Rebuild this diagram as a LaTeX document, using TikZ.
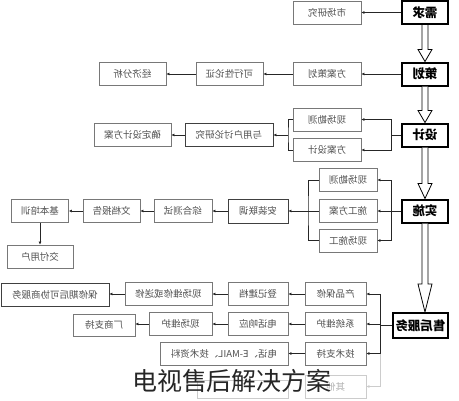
\documentclass[tikz,border=0pt]{standalone}
\usepackage{fontspec}
\usepackage{graphicx}
\setmainfont{Noto Sans CJK SC}
\usetikzlibrary{arrows.meta,calc}
\definecolor{box_gray}{RGB}{120, 120, 120}
\definecolor{txt_gray}{RGB}{80, 80, 80}
\tikzstyle{mb}=[rectangle,draw=black,line width=2pt,fill=white,inner sep=0pt,
  minimum width=46pt,minimum height=23pt,font=\fontsize{12.5}{13}\selectfont\bfseries]
\tikzstyle{sb}=[rectangle,draw=box_gray,line width=0.8pt,fill=white,inner sep=0pt,
  minimum height=23pt,text=txt_gray,font=\fontsize{9.5}{11}\selectfont]
\tikzstyle{sbd}=[sb,draw=black!75]
\tikzstyle{fb}=[sb,draw=black!20,text=black!30]
\tikzstyle{ar}=[-{Latex[length=3pt,width=3pt]},line width=0.8pt,draw=black!85]
\tikzstyle{ln}=[line width=0.8pt,draw=black!85]
\newcommand{\fl}[1]{\reflectbox{#1}}
\newcommand{\dblarrow}[3]{%
  \coordinate (tip) at (#1.south |- #2.north);
  \draw[line width=0.8pt,fill=white] ([xshift=-3pt]#1.south) -- ([xshift=-3pt,yshift=#3pt]tip)
    -- ([xshift=-7pt,yshift=#3pt]tip) -- (tip) -- ([xshift=7pt,yshift=#3pt]tip)
    -- ([xshift=3pt,yshift=#3pt]tip) -- ([xshift=3pt]#1.south);}

\begin{document}
\begin{tikzpicture}[x=1pt,y=-1pt]
    \useasboundingbox (0,0) rectangle (459,400);
        % main column
        \node[style=mb] (0) at (425, 12.5) {\fl{需求}};
		\node[style=mb] (2) at (425, 74) {\fl{策划}};
		\node[style=mb] (6) at (425, 135) {\fl{设计}};
		\node[style=mb] (11) at (425, 211) {\fl{实施}};
		\node[style=mb, minimum width=55pt, minimum height=25pt] (20) at (420.5, 325.5) {\fl{售后服务}};
        \dblarrow{0}{2}{12}
        \dblarrow{2}{6}{12}
        \dblarrow{6}{11}{15}
        \dblarrow{11}{20}{28}
        % need
		\node[style=sb, minimum width=68pt] (1) at (327, 12.5) {\fl{市场研究}};
        \draw[style=ar] (0) to (1);
        % plan
		\node[style=sb, minimum width=68pt] (3) at (327, 74) {\fl{方案策划}};
		\node[style=sb, minimum width=67pt] (4) at (229.5, 74) {\fl{可行性论证}};
		\node[style=sb, minimum width=67pt] (5) at (132.5, 74) {\fl{经济分析}};
        \draw[style=ar] (2) to (3);
		\draw[style=ar] (3) to (4);
		\draw[style=ar] (4) to (5);
        % design
		\node[style=sb, minimum width=68pt] (7) at (327, 119.5) {\fl{现场勘测}};
		\node[style=sb, minimum width=68pt] (8) at (327, 150) {\fl{方案设计}};
		\node[style=sbd, minimum width=88pt] (9) at (229, 135) {\fl{与用户讨论研究}};
		\node[style=sb, minimum width=77pt] (10) at (132.5, 135) {\fl{确定设计方案}};
        \coordinate (b1) at (391, 135);
		\coordinate (c1) at (288, 135);
        \draw[style=ln] (6) to (b1);
		\draw[style=ar] (b1) |- (7);
		\draw[style=ar] (b1) |- (8);
		\draw[style=ln] (7.west) -| (c1) |- (8.west);
		\draw[style=ar] (c1) to (9);
		\draw[style=ar] (9) to (10);
        % build
		\node[style=sb, minimum width=58pt] (12) at (348, 180) {\fl{现场勘测}};
		\node[style=sb, minimum width=58pt] (13) at (348, 211) {\fl{施工方案}};
		\node[style=sb, minimum width=58pt] (14) at (348, 240.5) {\fl{现场施工}};
		\node[style=sbd, minimum width=60pt, minimum height=24pt] (15) at (258, 211) {\fl{安装联调}};
		\node[style=sb, minimum width=58pt] (16) at (183, 211) {\fl{综合测试}};
		\node[style=sb, minimum width=57pt] (17) at (111.5, 211) {\fl{文档报告}};
		\node[style=sb, minimum width=57pt] (18) at (40, 211) {\fl{基本培训}};
		\node[style=sb, minimum width=66pt] (19) at (40, 256.5) {\fl{交付用户}};
        \coordinate (b2) at (391, 211);
		\coordinate (c2) at (308, 211);
        \draw[style=ln] (11) to (b2);
		\draw[style=ar] (b2) |- (12);
		\draw[style=ar] (b2) to (13);
		\draw[style=ar] (b2) |- (14);
		\draw[style=ln] (12.west) -| (c2) |- (14.west);
		\draw[style=ar] (13) to (15);
		\draw[style=ar] (15) to (16);
		\draw[style=ar] (16) to (17);
		\draw[style=ar] (17) to (18);
		\draw[style=ar] (18) to (19);
        % service
		\node[style=sb, minimum width=61pt] (21) at (335.5, 294) {\fl{产品保修}};
		\node[style=sb, minimum width=60pt] (22) at (258, 294) {\fl{登记建档}};
		\node[style=sb, minimum width=87pt] (23) at (168.5, 294) {\fl{现场维修或送修}};
		\node[style=sbd, minimum width=108pt] (24) at (55, 295) {\fl{保修期后可协商服务}};
		\node[style=sb, minimum width=61pt] (25) at (335.5, 324) {\fl{系统维护}};
		\node[style=sb, minimum width=60pt] (26) at (258, 324) {\fl{电话响应}};
		\node[style=sb, minimum width=63pt] (27) at (180.5, 324) {\fl{现场维护}};
		\node[style=sb, minimum width=62pt, minimum height=22pt] (28) at (104, 325) {\fl{厂商支持}};
		\node[style=sb, minimum width=61pt] (29) at (335.5, 353.5) {\fl{技术支持}};
		\node[style=sb, minimum width=128pt] (30) at (224, 353.5) {\fl{电话、E-MAIL、技术资料}};
		\node[style=fb, minimum width=61pt] (31) at (335.5, 386.5) {\fl{其他}};
		\node[style=fb, minimum width=91pt, minimum height=18pt] (32) at (242.5, 389) {};
        \coordinate (b3) at (380, 325.5);
        \draw[style=ln] (20) to (b3);
		\draw[style=ar] (b3) |- (21);
		\draw[style=ar] (b3) |- (25);
		\draw[style=ar] (b3) |- (29);
		\draw[style=ar, draw=black!20] (b3 |- 29) |- (31);
		\draw[style=ar] (21) to (22);
		\draw[style=ar] (22) to (23);
		\draw[style=ar] (23) to (24.east |- 23);
		\draw[style=ar] (25) to (26);
		\draw[style=ar] (26) to (27);
		\draw[style=ar] (27) to (28.east |- 27);
		\draw[style=ar] (29) to (30);
        % caption
        \node[text=black!85, font=\fontsize{25}{25}\selectfont] (t) at (232, 381) {电视售后解决方案};
    \end{tikzpicture}
\end{document}
